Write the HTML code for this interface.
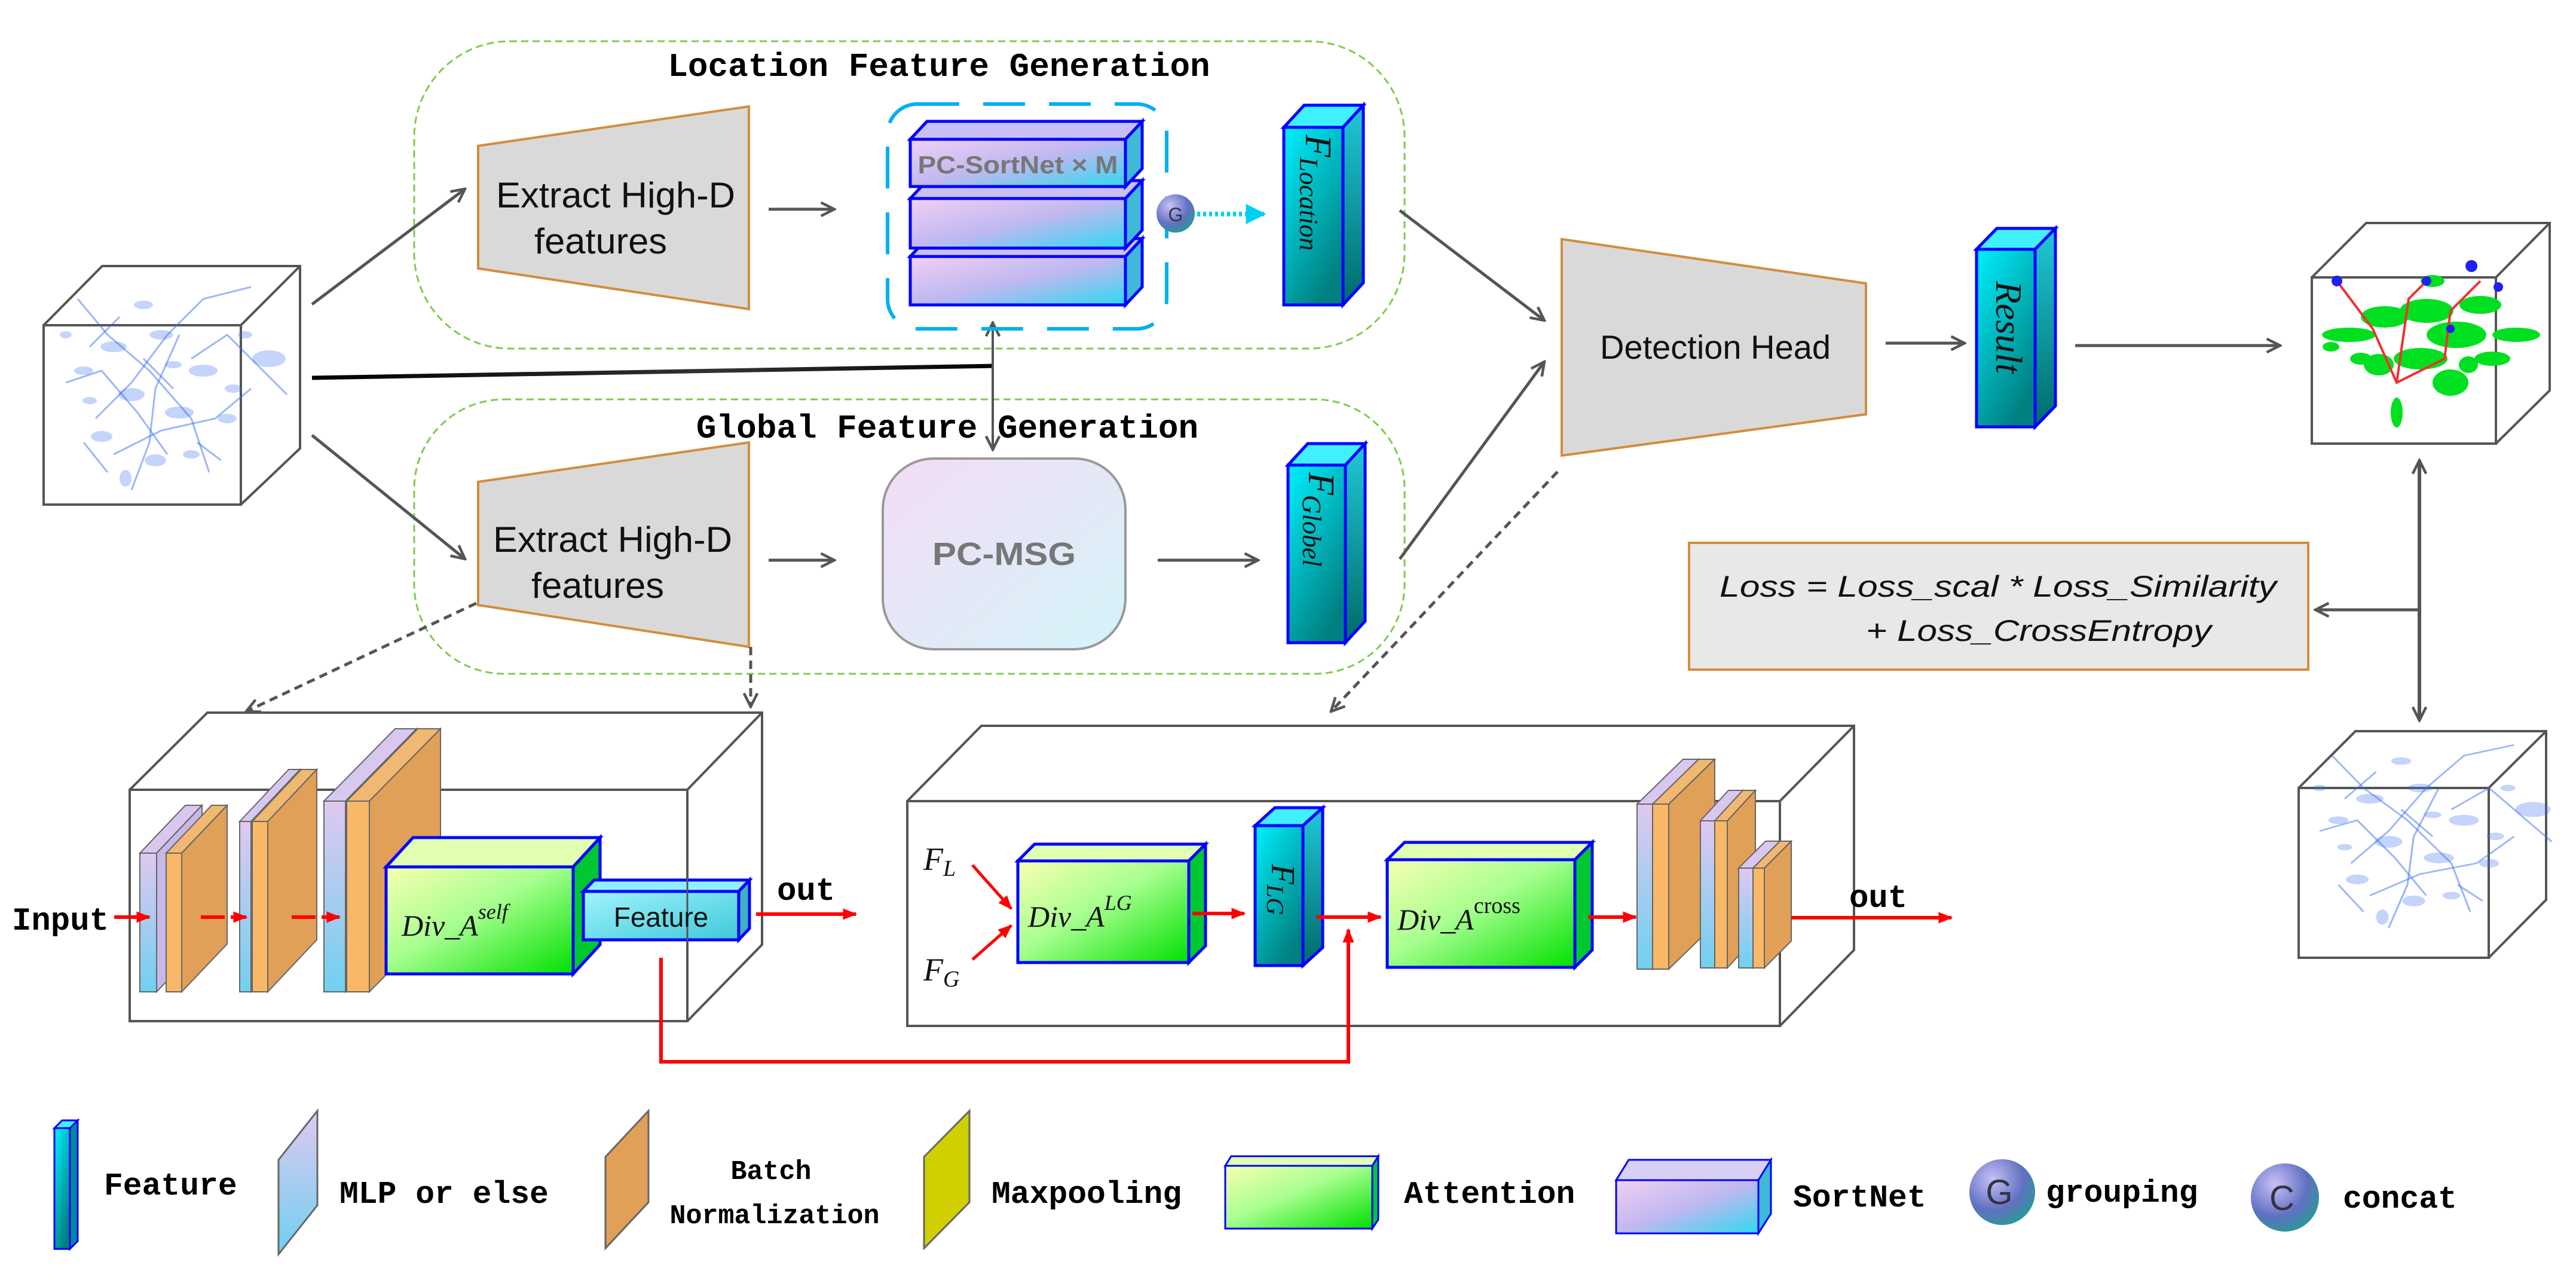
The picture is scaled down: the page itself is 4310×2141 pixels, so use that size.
<!DOCTYPE html>
<html><head><meta charset="utf-8"><style>html,body{margin:0;padding:0;background:#fff}svg{display:block}</style></head>
<body>
<svg width="4310" height="2141" viewBox="0 0 4310 2141" xmlns="http://www.w3.org/2000/svg">
<defs>
<linearGradient id="sort" x1="0" y1="0" x2="1" y2="1"><stop offset="0" stop-color="#f0d0f4"/><stop offset="0.5" stop-color="#c0b8f0"/><stop offset="1" stop-color="#30d8f0"/></linearGradient>
<linearGradient id="cyan" x1="0" y1="0" x2="0.6" y2="1"><stop offset="0" stop-color="#00f0ff"/><stop offset="1" stop-color="#008080"/></linearGradient>
<linearGradient id="cyanS" x1="0" y1="0" x2="0" y2="1"><stop offset="0" stop-color="#20c8d8"/><stop offset="1" stop-color="#006a6a"/></linearGradient>
<linearGradient id="green" x1="0" y1="0" x2="1" y2="1"><stop offset="0" stop-color="#f8ffb0"/><stop offset="0.45" stop-color="#a8ff90"/><stop offset="1" stop-color="#00e000"/></linearGradient>
<linearGradient id="msg" x1="0" y1="0" x2="1" y2="1"><stop offset="0" stop-color="#f4dcf4"/><stop offset="1" stop-color="#d4f4f8"/></linearGradient>
<linearGradient id="lav" x1="0" y1="0" x2="0" y2="1"><stop offset="0" stop-color="#e0c8f0"/><stop offset="1" stop-color="#70d0f0"/></linearGradient>
<linearGradient id="feat" x1="0" y1="0" x2="1" y2="1"><stop offset="0" stop-color="#a0f4ff"/><stop offset="1" stop-color="#40c8d8"/></linearGradient>
<radialGradient id="ball" cx="0.35" cy="0.3" r="0.8"><stop offset="0" stop-color="#c8c0f8"/><stop offset="0.6" stop-color="#6070c0"/><stop offset="1" stop-color="#20a090"/></radialGradient>
<marker id="ah" viewBox="0 0 10 10" refX="9" refY="5" markerWidth="28" markerHeight="28" orient="auto" markerUnits="userSpaceOnUse"><path d="M1,1 L9,5 L1,9" fill="none" stroke="#555" stroke-width="1.6"/></marker>
<marker id="ahs" viewBox="0 0 10 10" refX="1" refY="5" markerWidth="28" markerHeight="28" orient="auto" markerUnits="userSpaceOnUse"><path d="M9,1 L1,5 L9,9" fill="none" stroke="#555" stroke-width="1.6"/></marker>
<marker id="ar" viewBox="0 0 10 10" refX="9" refY="5" markerWidth="24" markerHeight="24" orient="auto" markerUnits="userSpaceOnUse"><path d="M0,1 L10,5 L0,9 z" fill="#f00"/></marker>
<marker id="ac" viewBox="0 0 10 10" refX="9" refY="5" markerWidth="34" markerHeight="34" orient="auto" markerUnits="userSpaceOnUse"><path d="M0,0 L10,5 L0,10 z" fill="#00d0f0"/></marker>
<linearGradient id="blk" x1="0" y1="0" x2="1" y2="0"><stop offset="0" stop-color="#000"/><stop offset="0.6" stop-color="#333"/><stop offset="1" stop-color="#000"/></linearGradient>
<g id="cloud">
<g fill="none" stroke="#3a70f0" stroke-opacity="0.5" stroke-width="3">
<path d="M40,-40 L90,20 L160,80 L230,160 L260,250"/><path d="M70,160 L130,100 L190,20 L250,-40 L330,-60"/>
<path d="M130,280 L160,200 L170,110 L210,20"/><path d="M20,100 L80,80 L140,150 L190,220"/>
<path d="M230,60 L290,20 L350,80 L390,120"/><path d="M100,220 L180,180 L270,160 L330,110"/>
<path d="M60,40 L110,-10 M150,60 L200,110 M240,200 L280,230 M50,200 L90,250"/>
</g>
<g fill="#3a70f0" fill-opacity="0.3">
<ellipse cx="100" cy="40" rx="22" ry="9"/><ellipse cx="180" cy="20" rx="20" ry="8"/><ellipse cx="250" cy="80" rx="24" ry="10"/>
<ellipse cx="130" cy="120" rx="22" ry="11"/><ellipse cx="210" cy="150" rx="24" ry="10"/><ellipse cx="290" cy="160" rx="16" ry="8"/>
<ellipse cx="80" cy="190" rx="18" ry="9"/><ellipse cx="170" cy="230" rx="18" ry="10"/><ellipse cx="50" cy="80" rx="16" ry="7"/>
<ellipse cx="360" cy="60" rx="28" ry="14"/><ellipse cx="150" cy="-30" rx="16" ry="7"/><ellipse cx="230" cy="220" rx="14" ry="7"/>
<ellipse cx="60" cy="130" rx="12" ry="6"/><ellipse cx="300" cy="110" rx="14" ry="7"/><ellipse cx="200" cy="70" rx="14" ry="6"/>
<ellipse cx="120" cy="260" rx="10" ry="14"/><ellipse cx="320" cy="20" rx="12" ry="6"/><ellipse cx="20" cy="20" rx="10" ry="6"/>
</g>
</g>
</defs>

<rect x="693" y="69" width="1657" height="514" rx="160" fill="none" stroke="#7ccc4c" stroke-width="3" stroke-dasharray="12,7"/>
<rect x="693" y="668" width="1657" height="459" rx="150" fill="none" stroke="#7ccc4c" stroke-width="3" stroke-dasharray="12,7"/>
<g font-family="Liberation Mono, monospace" font-weight="bold" font-size="56" fill="#000">
<text x="1571" y="127" text-anchor="middle">Location Feature Generation</text>
<text x="1585" y="732" text-anchor="middle">Global Feature Generation</text>
</g>

<g stroke="#555" stroke-width="4" fill="none">
<rect x="73" y="544" width="330" height="300" fill="#fff"/>
<polyline points="73,544 171,445 502,445 502,750 403,844"/>
<line x1="403" y1="544" x2="502" y2="445"/>
</g>
<use href="#cloud" transform="translate(90,540)"/>

<g stroke="#555" stroke-width="5" fill="none" marker-end="url(#ah)">
<line x1="522" y1="509" x2="778" y2="316"/>
<line x1="522" y1="728" x2="778" y2="935"/>
<line x1="1286" y1="350" x2="1396" y2="350"/>
<line x1="1286" y1="937" x2="1396" y2="937"/>
<line x1="1937" y1="937" x2="2105" y2="937"/>
<line x1="2342" y1="352" x2="2584" y2="536"/>
<line x1="2342" y1="935" x2="2584" y2="605"/>
<line x1="3155" y1="574" x2="3287" y2="574"/>
<line x1="3472" y1="578" x2="3815" y2="578"/>
<line x1="4048" y1="1020" x2="3874" y2="1020"/>
</g>
<line x1="522" y1="632" x2="1663" y2="612" stroke="url(#blk)" stroke-width="7"/>
<line x1="1661" y1="540" x2="1661" y2="752" stroke="#555" stroke-width="4" marker-end="url(#ah)" marker-start="url(#ahs)"/>
<line x1="4048" y1="770" x2="4048" y2="1205" stroke="#555" stroke-width="6" marker-end="url(#ah)" marker-start="url(#ahs)"/>

<g fill="#d9d9d9" stroke="#d38d3c" stroke-width="4">
<polygon points="800,244 1253,178 1253,517 800,449"/>
<polygon points="800,806 1253,740 1253,1082 800,1012"/>
<polygon points="2613,400 3122,474 3122,693 2613,762"/>
</g>
<g font-family="Liberation Sans, sans-serif" font-size="60" fill="#111" text-anchor="middle">
<text x="1030" y="347" textLength="400" lengthAdjust="spacingAndGlyphs">Extract High-D</text>
<text x="1005" y="424" textLength="222" lengthAdjust="spacingAndGlyphs">features</text>
<text x="1025" y="923" textLength="400" lengthAdjust="spacingAndGlyphs">Extract High-D</text>
<text x="1000" y="1000" textLength="222" lengthAdjust="spacingAndGlyphs">features</text>
<text x="2870" y="600" font-size="56">Detection Head</text>
</g>

<rect x="1485" y="174" width="467" height="376" rx="50" fill="none" stroke="#00b0f0" stroke-width="6" stroke-dasharray="70,40"/>
<g stroke="#0000ff" stroke-width="5">
<polygon points="1523,429 1551,399 1911,399 1883,429" fill="#c8c0f4"/><polygon points="1883,429 1911,399 1911,480 1883,510" fill="#40b8d8"/><rect x="1523" y="429" width="360" height="81" fill="url(#sort)"/>
<polygon points="1523,332 1551,302 1911,302 1883,332" fill="#c8c0f4"/><polygon points="1883,332 1911,302 1911,385 1883,415" fill="#40b8d8"/><rect x="1523" y="332" width="360" height="83" fill="url(#sort)"/>
<polygon points="1523,233 1551,203 1911,203 1883,233" fill="#c8c0f4"/><polygon points="1883,233 1911,203 1911,282 1883,312" fill="#40b8d8"/><rect x="1523" y="233" width="360" height="79" fill="url(#sort)"/>
</g>
<text x="1703" y="290" text-anchor="middle" font-family="Liberation Sans, sans-serif" font-weight="bold" font-size="42" fill="#777" textLength="335" lengthAdjust="spacingAndGlyphs">PC-SortNet × M</text>
<circle cx="1967" cy="357" r="32" fill="url(#ball)"/>
<text x="1967" y="370" text-anchor="middle" font-family="Liberation Sans, sans-serif" font-size="32" fill="#334">G</text>
<line x1="2003" y1="358" x2="2115" y2="358" stroke="#00d0f0" stroke-width="8" stroke-dasharray="5,5" marker-end="url(#ac)"/>

<g stroke="#0000ff" stroke-width="5">
<polygon points="2148,213 2182,176 2281,176 2247,213" fill="#40f0ff"/><polygon points="2247,213 2281,176 2281,473 2247,510" fill="url(#cyanS)"/><rect x="2148" y="213" width="99" height="297" fill="url(#cyan)"/>
<polygon points="2155,778 2188,742 2284,742 2251,778" fill="#40f0ff"/><polygon points="2251,778 2284,742 2284,1039 2251,1075" fill="url(#cyanS)"/><rect x="2155" y="778" width="96" height="297" fill="url(#cyan)"/>
<polygon points="3307,417 3341,382 3439,382 3405,417" fill="#40f0ff"/><polygon points="3405,417 3439,382 3439,679 3405,714" fill="url(#cyanS)"/><rect x="3307" y="417" width="98" height="297" fill="url(#cyan)"/>
</g>
<g font-family="Liberation Serif, serif" font-style="italic" fill="#111">
<text transform="translate(2185,225) rotate(90)" font-size="62">F<tspan font-size="44" dy="10">Location</tspan></text>
<text transform="translate(2190,790) rotate(90)" font-size="62">F<tspan font-size="44" dy="10">Globel</tspan></text>
<text transform="translate(3340,470) rotate(90)" font-size="62">Result</text>
</g>

<rect x="1477" y="767" width="406" height="319" rx="85" fill="url(#msg)" stroke="#999" stroke-width="4"/>
<text x="1680" y="945" text-anchor="middle" font-family="Liberation Sans, sans-serif" font-weight="bold" font-size="54" fill="#777" textLength="240" lengthAdjust="spacingAndGlyphs">PC-MSG</text>

<g stroke="#555" stroke-width="4" fill="none">
<rect x="3868" y="464" width="308" height="278" fill="#fff"/>
<polyline points="3868,464 3959,373 4266,373 4266,653 4176,742"/>
<line x1="4176" y1="464" x2="4266" y2="373"/>
</g>
<g fill="#00e020">
<ellipse cx="3930" cy="560" rx="45" ry="12"/><ellipse cx="3990" cy="530" rx="40" ry="18"/><ellipse cx="4060" cy="520" rx="45" ry="20"/>
<ellipse cx="4110" cy="560" rx="50" ry="22"/><ellipse cx="4050" cy="600" rx="45" ry="18"/><ellipse cx="4150" cy="510" rx="35" ry="15"/>
<ellipse cx="3980" cy="610" rx="25" ry="18"/><ellipse cx="4210" cy="560" rx="40" ry="12"/><ellipse cx="4100" cy="640" rx="30" ry="22"/>
<ellipse cx="4010" cy="690" rx="10" ry="25"/><ellipse cx="4170" cy="600" rx="30" ry="12"/><ellipse cx="3950" cy="600" rx="18" ry="10"/>
<ellipse cx="4070" cy="470" rx="20" ry="10"/><ellipse cx="4130" cy="610" rx="16" ry="14"/><ellipse cx="3900" cy="580" rx="14" ry="8"/>
</g>
<g stroke="#f03030" stroke-width="4" fill="none"><path d="M3910,470 L3970,550 L4010,640 L4090,600 L4100,520 L4150,470"/><path d="M4010,640 L4030,500 L4060,470"/></g>
<g fill="#2020f0"><circle cx="3910" cy="470" r="9"/><circle cx="4060" cy="470" r="8"/><circle cx="4135" cy="445" r="10"/><circle cx="4180" cy="480" r="8"/><circle cx="4100" cy="550" r="7"/></g>

<g stroke="#555" stroke-width="4" fill="none">
<rect x="3846" y="1318" width="318" height="284" fill="#fff"/>
<polyline points="3846,1318 3941,1223 4260,1223 4260,1505 4164,1602"/>
<line x1="4164" y1="1318" x2="4260" y2="1223"/>
</g>
<use href="#cloud" transform="translate(3860,1300) scale(1.05,0.9)"/>

<rect x="2826" y="908" width="1036" height="212" fill="#e8e8e8" stroke="#d38d3c" stroke-width="4"/>
<g font-family="Liberation Sans, sans-serif" font-style="italic" font-size="50" fill="#111">
<text x="2877" y="998" textLength="932" lengthAdjust="spacingAndGlyphs">Loss = Loss_scal * Loss_Similarity</text>
<text x="3122" y="1072" textLength="578" lengthAdjust="spacingAndGlyphs">+ Loss_CrossEntropy</text>
</g>

<g stroke="#555" stroke-width="5" stroke-dasharray="14,9" fill="none" marker-end="url(#ah)">
<line x1="797" y1="1009" x2="412" y2="1190"/>
<line x1="1256" y1="1082" x2="1256" y2="1182"/>
<line x1="2606" y1="789" x2="2227" y2="1190"/>
</g>

<g stroke="#555" stroke-width="4" fill="none">
<polyline points="217,1321 347,1192 1275,1192 1275,1580 1150,1708"/>
<line x1="1150" y1="1321" x2="1275" y2="1192"/>
<rect x="217" y="1321" width="933" height="387"/>
</g>
<g stroke="#555" stroke-width="4" fill="none">
<polyline points="1518,1340 1642,1214 3102,1214 3102,1589 2978,1716"/>
<line x1="2978" y1="1340" x2="3102" y2="1214"/>
<rect x="1518" y="1340" width="1460" height="376"/>
</g>

<g stroke="#666" stroke-width="2">
<polygon points="234,1427 310,1347 338,1347 262,1427" fill="#d8c8f0"/><polygon points="262,1427 338,1347 338,1579 262,1659" fill="#c8b8e8"/><rect x="234" y="1427" width="28" height="232" fill="url(#lav)"/>
<polygon points="278,1427 354,1347 380,1347 304,1427" fill="#f0b870"/><polygon points="304,1427 380,1347 380,1579 304,1659" fill="#e0a058"/><rect x="278" y="1427" width="26" height="232" fill="#f8b868"/>
<polygon points="401,1374 483,1287 502,1287 420,1374" fill="#d8c8f0"/><polygon points="420,1374 502,1287 502,1572 420,1659" fill="#c8b8e8"/><rect x="401" y="1374" width="19" height="285" fill="url(#lav)"/>
<polygon points="422,1374 504,1287 530,1287 448,1374" fill="#f0b870"/><polygon points="448,1374 530,1287 530,1572 448,1659" fill="#e0a058"/><rect x="422" y="1374" width="26" height="285" fill="#f8b868"/>
<polygon points="542,1340 661,1219 697,1219 578,1340" fill="#d8c8f0"/><polygon points="578,1340 697,1219 697,1538 578,1659" fill="#c8b8e8"/><rect x="542" y="1340" width="36" height="319" fill="url(#lav)"/>
<polygon points="580,1340 699,1219 737,1219 618,1340" fill="#f0b870"/><polygon points="618,1340 737,1219 737,1538 618,1659" fill="#e0a058"/><rect x="580" y="1340" width="38" height="319" fill="#f8b868"/>
</g>
<g stroke="#666" stroke-width="2">
<polygon points="2739,1345 2816,1270 2842,1270 2765,1345" fill="#d8c8f0"/><polygon points="2765,1345 2842,1270 2842,1546 2765,1621" fill="#c8b8e8"/><rect x="2739" y="1345" width="26" height="276" fill="url(#lav)"/>
<polygon points="2765,1345 2842,1270 2869,1270 2792,1345" fill="#f0b870"/><polygon points="2792,1345 2869,1270 2869,1546 2792,1621" fill="#e0a058"/><rect x="2765" y="1345" width="27" height="276" fill="#f8b868"/>
<polygon points="2845,1373 2892,1322 2916,1322 2869,1373" fill="#d8c8f0"/><polygon points="2869,1373 2916,1322 2916,1568 2869,1619" fill="#c8b8e8"/><rect x="2845" y="1373" width="24" height="246" fill="url(#lav)"/>
<polygon points="2869,1373 2916,1322 2937,1322 2890,1373" fill="#f0b870"/><polygon points="2890,1373 2937,1322 2937,1568 2890,1619" fill="#e0a058"/><rect x="2869" y="1373" width="21" height="246" fill="#f8b868"/>
<polygon points="2909,1452 2954,1407 2978,1407 2933,1452" fill="#d8c8f0"/><polygon points="2933,1452 2978,1407 2978,1574 2933,1619" fill="#c8b8e8"/><rect x="2909" y="1452" width="24" height="167" fill="url(#lav)"/>
<polygon points="2933,1452 2978,1407 2997,1407 2952,1452" fill="#f0b870"/><polygon points="2952,1452 2997,1407 2997,1574 2952,1619" fill="#e0a058"/><rect x="2933" y="1452" width="19" height="167" fill="#f8b868"/>
</g>

<g stroke="#0000ff" stroke-width="5">
<polygon points="646,1450 691,1401 1004,1401 959,1450" fill="#e0ffb0"/><polygon points="959,1450 1004,1401 1004,1580 959,1629" fill="#00c830"/><rect x="646" y="1450" width="313" height="179" fill="url(#green)"/>
<polygon points="976,1491 994,1472 1254,1472 1236,1491" fill="#90f0ff"/><polygon points="1236,1491 1254,1472 1254,1553 1236,1572" fill="#40b0c0"/><rect x="976" y="1491" width="260" height="81" fill="url(#feat)"/>
<polygon points="1703,1440 1731,1412 2017,1412 1989,1440" fill="#e0ffb0"/><polygon points="1989,1440 2017,1412 2017,1582 1989,1610" fill="#00c830"/><rect x="1703" y="1440" width="286" height="170" fill="url(#green)"/>
<polygon points="2100,1381 2133,1351 2213,1351 2180,1381" fill="#40f0ff"/><polygon points="2180,1381 2213,1351 2213,1585 2180,1615" fill="url(#cyanS)"/><rect x="2100" y="1381" width="80" height="234" fill="url(#cyan)"/>
<polygon points="2321,1438 2350,1409 2664,1409 2635,1438" fill="#e0ffb0"/><polygon points="2635,1438 2664,1409 2664,1589 2635,1618" fill="#00c830"/><rect x="2321" y="1438" width="314" height="180" fill="url(#green)"/>
</g>
<line x1="1150" y1="1321" x2="1150" y2="1708" stroke="#555" stroke-width="3"/>
<g font-family="Liberation Serif, serif" font-style="italic" fill="#111" font-size="50">
<text x="672" y="1565">Div_A<tspan font-size="36" dy="-28">self</tspan></text>
<text x="1720" y="1550">Div_A<tspan font-size="36" dy="-28">LG</tspan></text>
<text x="2338" y="1555">Div_A<tspan font-size="38" dy="-28" font-style="normal">cross</tspan></text>
<text transform="translate(2128,1445) rotate(90)" font-size="56">F<tspan font-size="40" dy="8">LG</tspan></text>
<text x="1545" y="1455" font-size="54">F<tspan font-size="38" dy="10">L</tspan></text>
<text x="1545" y="1640" font-size="54">F<tspan font-size="38" dy="10">G</tspan></text>
</g>
<text x="1106" y="1550" text-anchor="middle" font-family="Liberation Sans, sans-serif" font-size="46" fill="#111">Feature</text>

<g stroke="#f00" stroke-width="6" fill="none" marker-end="url(#ar)">
<line x1="191" y1="1534" x2="250" y2="1534"/>
<line x1="336" y1="1534" x2="412" y2="1534" stroke-dasharray="40,10"/>
<line x1="488" y1="1534" x2="568" y2="1534" stroke-dasharray="40,10"/>
<line x1="1265" y1="1529" x2="1432" y2="1529"/>
<line x1="1627" y1="1447" x2="1692" y2="1520" stroke-width="5"/>
<line x1="1627" y1="1605" x2="1692" y2="1548" stroke-width="5"/>
<line x1="1995" y1="1528" x2="2082" y2="1528"/>
<line x1="2202" y1="1534" x2="2310" y2="1534"/>
<line x1="2657" y1="1534" x2="2737" y2="1534"/>
<line x1="2997" y1="1535" x2="3265" y2="1535"/>
<polyline points="1106,1602 1106,1776 2256,1776 2256,1555" stroke-width="6"/>
</g>
<g font-family="Liberation Mono, monospace" font-weight="bold" font-size="54" fill="#000">
<text x="20" y="1555">Input</text>
<text x="1300" y="1505">out</text>
<text x="3094" y="1517">out</text>
</g>

<g stroke-width="3">
<polygon points="91,1887 104,1874 130,1874 117,1887" fill="#40f0ff" stroke="#0000ff"/><polygon points="117,1887 130,1874 130,2076 117,2089" fill="#008a9a" stroke="#0000ff"/><rect x="91" y="1887" width="26" height="202" fill="url(#cyan)" stroke="#0000ff"/>
<polygon points="466,1940 531,1858 531,2016 466,2098" fill="url(#lav)" stroke="#666"/>
<polygon points="1013,1935 1085,1858 1085,2011 1013,2088" fill="#e0a058" stroke="#666"/>
<polygon points="1546,1935 1622,1858 1622,2011 1546,2088" fill="#d0d000" stroke="#666"/>
<polygon points="2050,1950 2060,1934 2306,1934 2296,1950" fill="#e0ffb0" stroke="#0000ff"/><polygon points="2296,1950 2306,1934 2306,2040 2296,2055" fill="#00c830" stroke="#0000ff"/><rect x="2050" y="1950" width="246" height="105" fill="url(#green)" stroke="#0000ff"/>
<polygon points="2704,1974 2725,1940 2963,1940 2942,1974" fill="#d8d0f4" stroke="#0000ff"/><polygon points="2942,1974 2963,1940 2963,2030 2942,2063" fill="#40b8d8" stroke="#0000ff"/><rect x="2704" y="1974" width="238" height="89" fill="url(#sort)" stroke="#0000ff"/>
</g>
<circle cx="3350" cy="1994" r="55" fill="url(#ball)"/>
<circle cx="3823" cy="2003" r="57" fill="url(#ball)"/>
<g font-family="Liberation Sans, sans-serif" font-size="58" fill="#334" text-anchor="middle"><text x="3345" y="2014">G</text><text x="3818" y="2024">C</text></g>
<g font-family="Liberation Mono, monospace" font-weight="bold" font-size="53" fill="#000">
<text x="174" y="1998">Feature</text>
<text x="568" y="2012">MLP or else</text>
<text x="1290" y="1972" text-anchor="middle" font-size="45">Batch</text>
<text x="1296" y="2046" text-anchor="middle" font-size="45">Normalization</text>
<text x="1659" y="2012">Maxpooling</text>
<text x="2349" y="2012">Attention</text>
<text x="3000" y="2018">SortNet</text>
<text x="3423" y="2010">grouping</text>
<text x="3920" y="2020">concat</text>
</g>
</svg>
</body></html>
